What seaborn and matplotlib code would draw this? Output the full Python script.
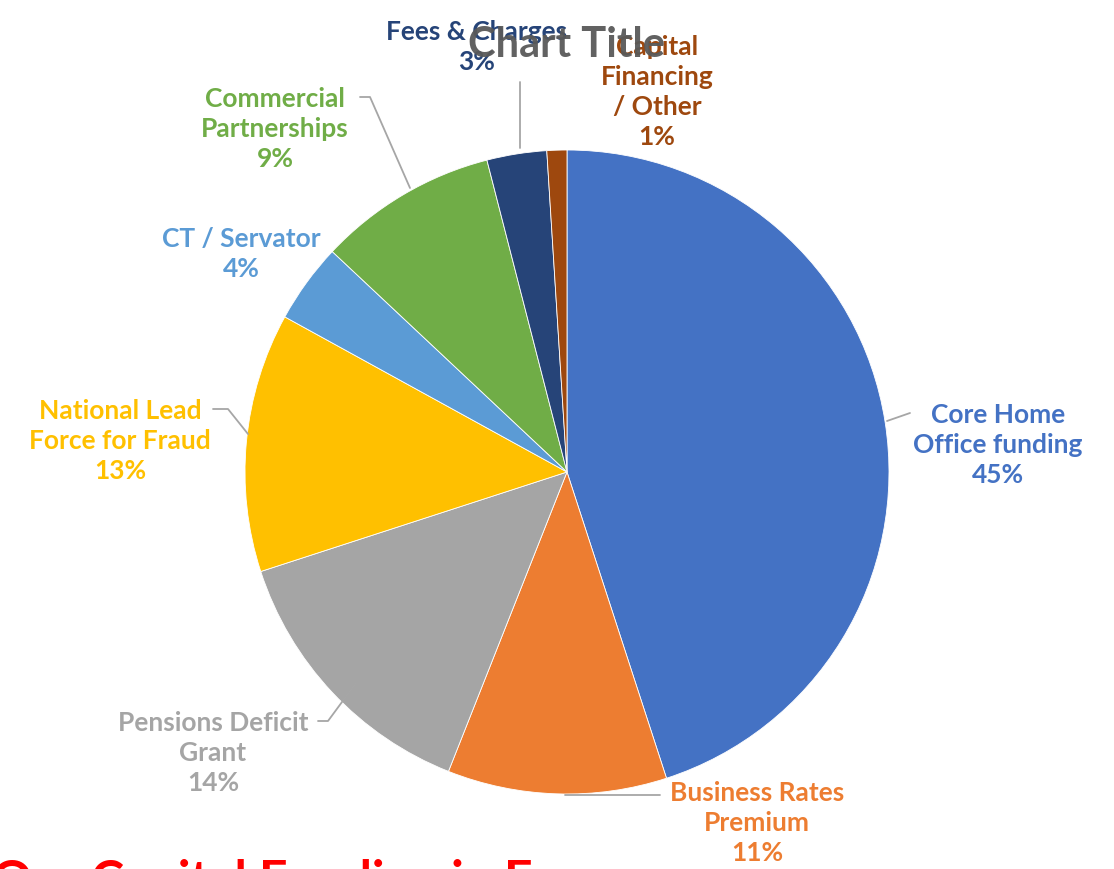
import matplotlib
matplotlib.use("Agg")
import matplotlib.pyplot as plt
from matplotlib.lines import Line2D
import seaborn as sns

# slices, clockwise from 12 o'clock
categories = ["Core Home\nOffice funding", "Business Rates\nPremium", "Pensions Deficit\nGrant",
              "National Lead\nForce for Fraud", "CT / Servator", "Commercial\nPartnerships",
              "Fees & Charges", "Capital\nFinancing\n/ Other"]
shares = [45, 11, 14, 13, 4, 9, 3, 1]
colors = ["#4472C4", "#ED7D31", "#A5A5A5", "#FFC000", "#5B9BD5", "#70AD47", "#264478", "#9E480E"]

# label centres (px) and leader lines (px)
label_pos = [(998, 445), (757, 823), (213, 753), (120, 441), (241, 254), (275, 129), (477, 47), (657, 92)]
leaders = [
    [(887, 421), (910, 413)],
    [(565, 795), (660, 795)],
    [(318, 721), (328, 721), (356, 683)],
    [(213, 409), (228, 409), (248, 434)],
    None,
    [(360, 97), (370, 97), (410, 188)],
    [(520, 82), (520, 148)],
    None,
]

W, H = 1114, 869
sns.set_style("white")
plt.rcParams["font.family"] = ["Lato", "DejaVu Sans"]

fig = plt.figure(figsize=(W / 100, H / 100), dpi=100)


def fx(x, y):
    return x / W, 1 - y / H


cx, cy, r = 567, 472, 322
ax = fig.add_axes([(cx - r) / W, (H - cy - r) / H, 2 * r / W, 2 * r / H])
ax.pie(shares, colors=colors, startangle=90, counterclock=False, radius=1,
       wedgeprops=dict(linewidth=0.6, edgecolor="white"))
ax.set_xlim(-1, 1)
ax.set_ylim(-1, 1)
ax.axis("off")

for lab, val, col, (x, y), ld in zip(categories, shares, colors, label_pos, leaders):
    fig.text(*fx(x, y), f"{lab}\n{val}%", color=col, fontsize=19, fontweight="bold",
             ha="center", va="center", linespacing=1.3)
    if ld:
        xs = [p[0] / W for p in ld]
        ys = [1 - p[1] / H for p in ld]
        fig.add_artist(Line2D(xs, ys, color="#A6A6A6", lw=1.3, transform=fig.transFigure))

fig.text(*fx(567, 45), "Chart Title", color="#595959", alpha=0.95, fontsize=30,
         fontweight="bold", ha="center", va="center")

fig.text(*fx(-8, 858), "Our Capital Funding in Focus", color="#FF0000", fontsize=36,
         fontweight="bold", ha="left", va="top")

fig.savefig("out.png", dpi=100)
